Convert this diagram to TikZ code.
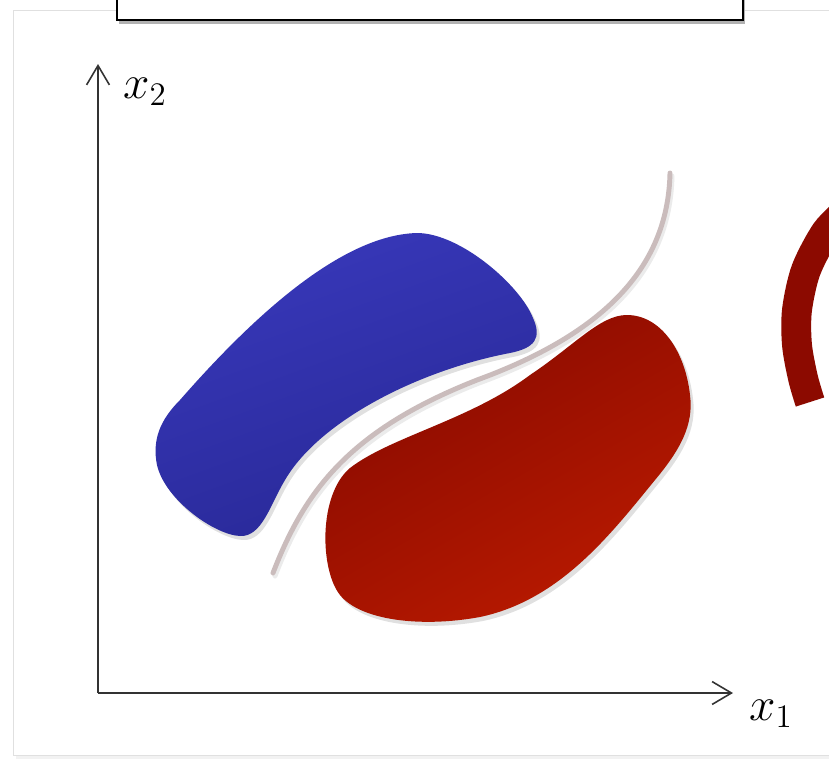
\documentclass[tikz,border=0pt]{standalone}
\usetikzlibrary{positioning, arrows.meta}
\definecolor{blobblue}{RGB}{56,56,186}
\definecolor{blobbluedark}{RGB}{40,40,150}
\definecolor{blobred}{RGB}{186,26,0}
\definecolor{blobreddark}{RGB}{136,10,0}
\definecolor{ringred}{RGB}{140,10,0}
\definecolor{boundgray}{RGB}{202,188,188}
\tikzset{
    axis line/.style={draw=black!80, line width=0.9pt, -{Straight Barb[length=11pt, width=13pt, line width=0.9pt]}},
    axis label/.style={font=\huge, scale=1.3, inner sep=0pt},
    blob shadow/.style={fill=black, opacity=0.12},
    boundary line/.style={draw=boundgray, line width=2.8pt, line cap=round},
}
\newcommand{\blueblob}{(417,233) .. controls (460,233) and (520,285) .. (533,318)
    .. controls (542,338) and (535,348) .. (510,353)
    .. controls (420,370) and (320,420) .. (285,480)
    .. controls (270,505) and (262,537) .. (240,536)
    .. controls (215,535) and (165,500) .. (157,465)
    .. controls (152,440) and (160,420) .. (180,400)
    .. controls (250,320) and (340,235) .. (417,233) -- cycle}
\newcommand{\redblob}{(627,315) .. controls (660,315) and (685,350) .. (690,395)
    .. controls (694,425) and (680,450) .. (655,480)
    .. controls (610,535) and (560,600) .. (480,617)
    .. controls (420,628) and (360,620) .. (340,595)
    .. controls (320,570) and (318,495) .. (350,468)
    .. controls (390,437) and (470,420) .. (530,375)
    .. controls (575,345) and (600,315) .. (627,315) -- cycle}

\begin{document}
\begin{tikzpicture}[x=0.02cm, y=-0.02cm]
    \useasboundingbox (0,0) rectangle (829,762);
    \clip (0,0) rectangle (829,762);
    % outer frame
    \fill[black!5] (16,13) rectangle (850,759);
    \draw[draw=black!12, fill=white] (13,10) rectangle (850,755);
    % title box, cut at the top
    \fill[black!30] (119,-10) rectangle (745,24);
    \node[draw, line width=1.2pt, fill=white, minimum width=626*0.02cm, minimum height=31*0.02cm, inner sep=0pt, anchor=south west] (title) at (116,21) {};
    % axes
    \coordinate (o) at (98,693);
    \coordinate (xend) at (733,693);
    \coordinate (yend) at (98,64);
    \draw[axis line] (o) -- (xend);
    \draw[axis line] (o) -- (yend);
    \node[axis label] (xlab) at (771,714) {$x_1$};
    \node[axis label] (ylab) at (145,92) {$x_2$};
    % shadows of the classes
    \fill[blob shadow, shift={(3,4)}] \blueblob;
    \fill[blob shadow, shift={(3,4)}] \redblob;
    % class 1
    \shade[top color=blobblue, bottom color=blobbluedark, shading angle=20] \blueblob;
    % class 2
    \shade[top color=blobreddark, bottom color=blobred, shading angle=30] \redblob;
    % decision boundary
    \draw[boundary line, draw=black!8, shift={(2,3)}] (273,573) .. controls (305,490) and (350,430) .. (477,380)
        .. controls (600,335) and (668,270) .. (670,173);
    \draw[boundary line] (273,573) .. controls (305,490) and (350,430) .. (477,380)
        .. controls (600,335) and (668,270) .. (670,173);
    % ring of the next picture
    \draw[draw=ringred, line width=17pt] plot[smooth] coordinates {
        (848,210) (826,232) (806,270) (797,310) (797,345) (803,378) (810,402)};
\end{tikzpicture}
\end{document}
